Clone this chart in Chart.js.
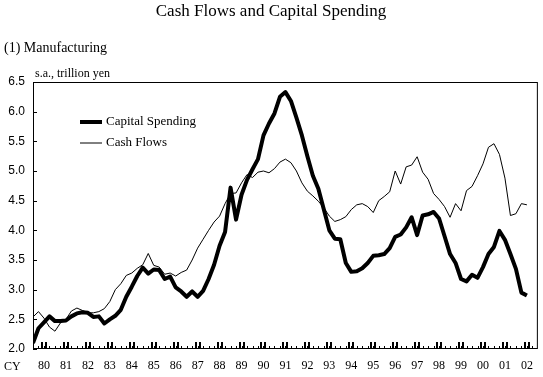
<!DOCTYPE html>
<html><head><meta charset="utf-8">
<script src="https://cdn.jsdelivr.net/npm/chart.js@4"></script>
<style>html,body{margin:0;padding:0;background:#fff}canvas{display:block}</style>
</head><body>
<canvas id="c" width="543" height="377"></canvas>
<script>
// Quarterly data, 1980Q1 .. 2002Q3 (trillion yen, s.a.)
const yearLabels = ['80','81','82','83','84','85','86','87','88','89','90','91','92','93','94','95','96','97','98','99','00','01','02'];
const capitalSpending = [
 2.10,2.35,2.45,2.55,2.47,2.47,2.48,2.55,2.60,2.62,2.61,2.54,2.55,2.43,2.50,2.56,
 2.66,2.88,3.05,3.23,3.37,3.27,3.34,3.33,3.18,3.22,3.04,2.97,2.88,2.97,2.88,2.98,
 3.18,3.42,3.74,3.97,4.72,4.18,4.60,4.85,5.03,5.20,5.60,5.80,5.97,6.25,6.33,6.18,
 5.90,5.60,5.25,4.92,4.70,4.35,4.00,3.86,3.85,3.45,3.30,3.31,3.36,3.45,3.57,3.58,
 3.60,3.70,3.89,3.93,4.05,4.22,3.92,4.25,4.27,4.31,4.20,3.90,3.60,3.45,3.18,3.14,
 3.25,3.20,3.38,3.60,3.72,3.99,3.84,3.60,3.35,2.95,2.90];
const cashFlows = [
 2.54,2.63,2.52,2.37,2.30,2.44,2.50,2.64,2.69,2.65,2.61,2.61,2.63,2.68,2.80,3.00,
 3.10,3.24,3.28,3.36,3.42,3.61,3.41,3.38,3.26,3.28,3.23,3.29,3.33,3.50,3.70,3.85,
 4.00,4.14,4.24,4.45,4.62,4.63,4.80,4.94,4.89,4.98,5.00,4.97,5.04,5.15,5.20,5.14,
 5.00,4.80,4.66,4.58,4.49,4.38,4.24,4.15,4.18,4.23,4.35,4.43,4.45,4.40,4.30,4.50,
 4.57,4.65,5.00,4.78,5.07,5.10,5.24,4.98,4.86,4.62,4.52,4.40,4.22,4.45,4.33,4.67,
 4.74,4.92,5.12,5.40,5.46,5.28,4.88,4.25,4.28,4.45,4.43];
const yTicks = [2.0,2.5,3.0,3.5,4.0,4.5,5.0,5.5,6.0,6.5];

const toXY = arr => arr.map((v,i)=>({x:i,y:v}));
const serif = '"Liberation Serif", "Times New Roman", serif';
const sans = '"Liberation Sans", Arial, sans-serif';

const decor = {
  id:'decor',
  afterDraw(chart){
    const {ctx, chartArea:a, scales:{x,y}} = chart;
    ctx.save();
    // frame
    ctx.strokeStyle='#000'; ctx.lineWidth=1;
    ctx.strokeRect(a.left+0.5,a.top+0.5,a.right-a.left-1,a.bottom-a.top-1);
    // y inner ticks
    yTicks.forEach(v=>{
      const py=Math.round(y.getPixelForValue(v))+0.5;
      ctx.beginPath();ctx.moveTo(a.left,py);ctx.lineTo(a.left+4,py);ctx.stroke();
    });
    // x inner ticks
    ctx.fillStyle='#000';
    for(let q=0;q<yearLabels.length*4;q++){
      const px=Math.round(x.getPixelForValue(q));
      ctx.fillRect(px,a.bottom-3,1,2);
    }
    yearLabels.forEach((l,k)=>{
      const c=x.getPixelForValue(4*k+2);
      ctx.fillRect(Math.round(c-3),a.bottom-7,2,6);
      ctx.fillRect(Math.round(c+1),a.bottom-7,2,6);
    });
    // texts
    ctx.fillStyle='#000';
    ctx.textBaseline='middle';
    ctx.font='17px '+serif; ctx.textAlign='center';
    ctx.fillText('Cash Flows and Capital Spending',271,12);
    ctx.font='14px '+serif; ctx.textAlign='left';
    ctx.fillText('(1) Manufacturing',4,48);
    ctx.font='12px '+serif;
    ctx.fillText('s.a., trillion yen',35,74);
    ctx.fillText('CY',4,367);
    // legend
    ctx.font='13px '+serif;
    chart.data.datasets.forEach((ds,i)=>{
      const ly=122+i*21;
      ctx.lineWidth=ds.borderWidth; ctx.strokeStyle=ds.borderColor;
      ctx.beginPath();ctx.moveTo(80,ly);ctx.lineTo(102,ly);ctx.stroke();
      ctx.fillText(ds.label,106,ly);
    });
    ctx.restore();
  }
};

new Chart(document.getElementById('c'),{
  type:'line',
  data:{datasets:[
    {label:'Capital Spending',data:toXY(capitalSpending),borderColor:'#000',borderWidth:4,pointRadius:0,tension:0,borderJoinStyle:'round'},
    {label:'Cash Flows',data:toXY(cashFlows),borderColor:'#000',borderWidth:1,pointRadius:0,tension:0}
  ]},
  options:{
    responsive:false,animation:false,
    layout:{padding:{top:82,right:5,left:0,bottom:0}},
    plugins:{legend:{display:false},tooltip:{enabled:false},title:{display:false}},
    scales:{
      x:{type:'linear',min:0,max:92,
        grid:{display:false,drawTicks:false},border:{display:false},
        afterBuildTicks:s=>{s.ticks=yearLabels.map((l,k)=>({value:4*k+2}));},
        afterFit:s=>{s.height=28;},
        ticks:{autoSkip:false,maxRotation:0,padding:10,color:'#000',font:{family:serif,size:12},
          callback:(v)=>yearLabels[(v-2)/4]}
      },
      y:{min:2,max:6.5,
        grid:{display:false,drawTicks:false},border:{display:false},
        afterBuildTicks:s=>{s.ticks=yTicks.map(v=>({value:v}));},
        afterFit:s=>{s.width=33;},
        ticks:{padding:8,color:'#000',font:{family:sans,size:12},callback:v=>v.toFixed(1)}
      }
    }
  },
  plugins:[decor]
});
</script>
</body></html>
